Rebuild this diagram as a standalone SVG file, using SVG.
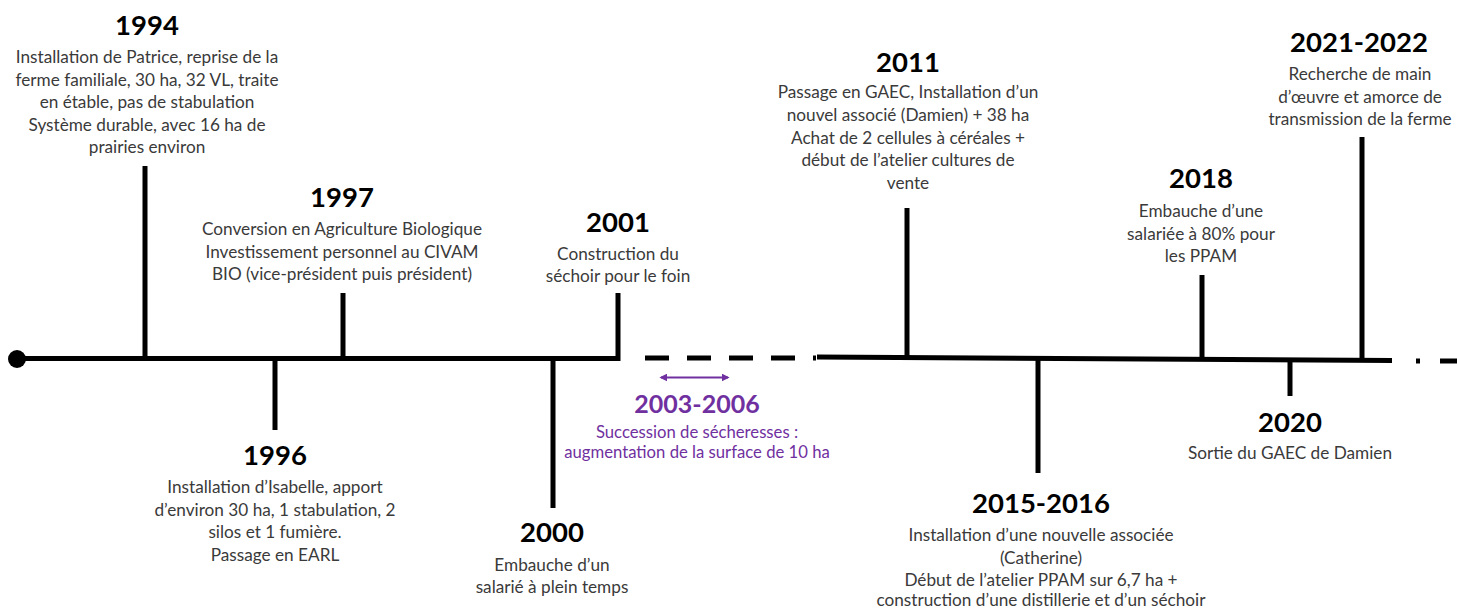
<svg xmlns="http://www.w3.org/2000/svg" width="1457" height="608" viewBox="0 0 1457 608">
<defs>
<style>
.yr{font-family:Lato,"Open Sans","Liberation Sans",sans-serif;font-weight:bold;font-size:27.5px;fill:#000;text-anchor:middle}
.tx{font-family:Lato,"Open Sans","Liberation Sans",sans-serif;font-size:17.2px;fill:#3a3a3a;text-anchor:middle}
.pyr{font-family:Lato,"Open Sans","Liberation Sans",sans-serif;font-weight:bold;font-size:25px;fill:#7030a0;text-anchor:middle}
.ptx{font-family:Lato,"Open Sans","Liberation Sans",sans-serif;font-size:16.7px;fill:#7030a0;text-anchor:middle}
.ax{stroke:#000;stroke-width:5;fill:none}
.tk{stroke:#000;stroke-width:5;fill:none}
</style>
<marker id="pa" viewBox="0 0 10 10" refX="8" refY="5" markerWidth="4" markerHeight="4" orient="auto-start-reverse">
<path d="M0,0 L10,5 L0,10 z" fill="#7030a0"/>
</marker>
</defs>
<rect width="1457" height="608" fill="#fff"/>
<g id="connectors">
<circle cx="17" cy="359" r="9" fill="#000"/>
<path class="ax" d="M17,358.5 L618,358.5 L618,293"/>
<line class="ax" x1="645" y1="358" x2="816" y2="358" stroke-dasharray="24 18"/>
<line class="ax" x1="817" y1="357" x2="1392" y2="360.5"/>
<line class="ax" x1="1416" y1="361" x2="1420" y2="361"/>
<line class="ax" x1="1440" y1="361" x2="1457" y2="361"/>
<line class="tk" x1="145" y1="166" x2="145" y2="358"/>
<line class="tk" x1="275" y1="358" x2="275" y2="430"/>
<line class="tk" x1="343" y1="293" x2="343" y2="358"/>
<line class="tk" x1="553" y1="358" x2="553" y2="508"/>
<line class="tk" x1="907" y1="208" x2="907" y2="358"/>
<line class="tk" x1="1038" y1="358" x2="1038" y2="473"/>
<line class="tk" x1="1202" y1="275" x2="1202" y2="359"/>
<line class="tk" x1="1290" y1="360" x2="1290" y2="396"/>
<line class="tk" x1="1362" y1="137" x2="1362" y2="360"/>
<line x1="661" y1="377.5" x2="728" y2="377.5" stroke="#7030a0" stroke-width="2" marker-start="url(#pa)" marker-end="url(#pa)"/>
</g>
<g id="n1994">
<text class="yr" x="147" y="35">1994</text>
<text class="tx" x="147" y="63">Installation de Patrice, reprise de la</text>
<text class="tx" x="147" y="85.5">ferme familiale, 30 ha, 32 VL, traite</text>
<text class="tx" x="147" y="108">en étable, pas de stabulation</text>
<text class="tx" x="147" y="130.5">Système durable, avec 16 ha de</text>
<text class="tx" x="147" y="153">prairies environ</text>
</g>
<g id="n1997">
<text class="yr" x="342" y="207">1997</text>
<text class="tx" x="342" y="235">Conversion en Agriculture Biologique</text>
<text class="tx" x="342" y="257.5">Investissement personnel au CIVAM</text>
<text class="tx" x="342" y="280">BIO (vice-président puis président)</text>
</g>
<g id="n2001">
<text class="yr" x="618" y="232">2001</text>
<text class="tx" x="618" y="259.5">Construction du</text>
<text class="tx" x="618" y="282">séchoir pour le foin</text>
</g>
<g id="n2003">
<text class="pyr" x="697" y="413">2003-2006</text>
<text class="ptx" x="697" y="438">Succession de sécheresses :</text>
<text class="ptx" x="697" y="458">augmentation de la surface de 10 ha</text>
</g>
<g id="n2011">
<text class="yr" x="908" y="72">2011</text>
<text class="tx" x="908" y="98">Passage en GAEC, Installation d’un</text>
<text class="tx" x="908" y="121">nouvel associé (Damien) + 38 ha</text>
<text class="tx" x="908" y="143.5">Achat de 2 cellules à céréales +</text>
<text class="tx" x="908" y="166">début de l’atelier cultures de</text>
<text class="tx" x="908" y="189">vente</text>
</g>
<g id="n2018">
<text class="yr" x="1201" y="188">2018</text>
<text class="tx" x="1201" y="217">Embauche d’une</text>
<text class="tx" x="1201" y="240">salariée à 80% pour</text>
<text class="tx" x="1201" y="262">les PPAM</text>
</g>
<g id="n2021">
<text class="yr" x="1359" y="52">2021-2022</text>
<text class="tx" x="1360" y="80">Recherche de main</text>
<text class="tx" x="1360" y="103">d’œuvre et amorce de</text>
<text class="tx" x="1360" y="125">transmission de la ferme</text>
</g>
<g id="n1996">
<text class="yr" x="275" y="465">1996</text>
<text class="tx" x="275" y="493">Installation d’Isabelle, apport</text>
<text class="tx" x="275" y="515.5">d’environ 30 ha, 1 stabulation, 2</text>
<text class="tx" x="275" y="538">silos et 1 fumière.</text>
<text class="tx" x="275" y="560.5">Passage en EARL</text>
</g>
<g id="n2000">
<text class="yr" x="552" y="542">2000</text>
<text class="tx" x="552" y="571">Embauche d’un</text>
<text class="tx" x="552" y="593">salarié à plein temps</text>
</g>
<g id="n2015">
<text class="yr" x="1041" y="513">2015-2016</text>
<text class="tx" x="1041" y="541">Installation d’une nouvelle associée</text>
<text class="tx" x="1041" y="564">(Catherine)</text>
<text class="tx" x="1041" y="586">Début de l’atelier PPAM sur 6,7 ha +</text>
<text class="tx" x="1041" y="606">construction d’une distillerie et d’un séchoir</text>
</g>
<g id="n2020">
<text class="yr" x="1290" y="432">2020</text>
<text class="tx" x="1290" y="459">Sortie du GAEC de Damien</text>
</g>
</svg>
